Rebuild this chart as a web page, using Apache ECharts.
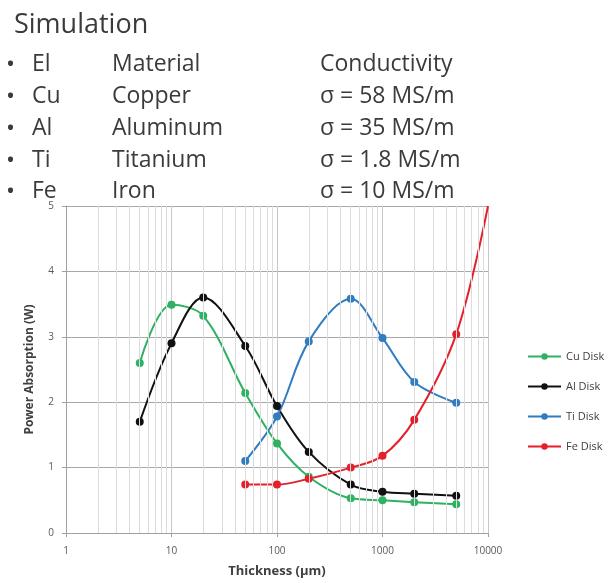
<!DOCTYPE html>
<html>
<head>
<meta charset="utf-8">
<style>
  html, body { margin: 0; padding: 0; background: #fff; }
  #chart { width: 608px; height: 583px; }
</style>
<script src="https://cdn.jsdelivr.net/npm/echarts@6/dist/echarts.min.js"></script>
</head>
<body>
<div id="chart"></div>
<script>
// Thickness values (µm) at which absorption was simulated
const thickness = [5, 10, 20, 50, 100, 200, 500, 1000, 2000, 5000];

// Absorbed power (W) per disk material
const cuDisk = [2.60, 3.49, 3.32, 2.14, 1.37, 0.86, 0.53, 0.50, 0.47, 0.44];
const alDisk = [1.70, 2.90, 3.60, 2.86, 1.94, 1.24, 0.74, 0.63, 0.60, 0.57];
const tiThickness = [50, 100, 200, 500, 1000, 2000, 5000];
const tiDisk = [1.10, 1.78, 2.93, 3.58, 2.98, 2.31, 1.99];
const feThickness = [50, 100, 200, 500, 1000, 2000, 5000, 10000];
const feDisk = [0.74, 0.74, 0.83, 1.00, 1.18, 1.73, 3.04, 5.00];

// Table of simulated materials
const tableHeader = ['El', 'Material', 'Conductivity'];
const elements = ['Cu', 'Al', 'Ti', 'Fe'];
const materials = ['Copper', 'Aluminum', 'Titanium', 'Iron'];
const conductivity = ['σ = 58 MS/m', 'σ = 35 MS/m', 'σ = 1.8 MS/m', 'σ = 10 MS/m'];

// Minor log gridlines (2..9 in each decade)
const minorGrid = [2,3,4,5,6,7,8,9,20,30,40,50,60,70,80,90,200,300,400,500,600,700,800,900,2000,3000,4000,5000,6000,7000,8000,9000];

const FONT = '"Open Sans", "Noto Sans", sans-serif';
const TEXT = '#3b3b3b';

function pairs(xs, ys) { return xs.map((x, i) => [x, ys[i]]); }

const rows = [tableHeader].concat(elements.map((e, i) => [e, materials[i], conductivity[i]]));
const colX = [32, 112, 320];
const rowY = [64, 96, 128, 160, 191];
const graphics = [{
  type: 'text', x: 14, y: 25,
  style: { text: 'Simulation', font: '27px ' + FONT, fill: TEXT, verticalAlign: 'middle' }
}];
rows.forEach((r, ri) => {
  graphics.push({
    type: 'text', x: 6, y: rowY[ri] + 1,
    style: { text: '•', font: '24px ' + FONT, fill: TEXT, verticalAlign: 'middle' }
  });
  r.forEach((cell, ci) => {
    graphics.push({
      type: 'text', x: colX[ci], y: rowY[ri],
      style: { text: cell, font: '23px ' + FONT, fill: TEXT, verticalAlign: 'middle' }
    });
  });
});

function diskSeries(name, data, color) {
  return {
    name, type: 'line', data, smooth: 0.35,
    symbol: 'circle', symbolSize: 8,
    lineStyle: { color, width: 2 },
    itemStyle: { color, borderWidth: 0 },
    z: 3
  };
}

const feData = pairs(feThickness, feDisk).map((p, i, a) =>
  i === a.length - 1 ? { value: p, symbol: 'none' } : p);

const chart = echarts.init(document.getElementById('chart'), null, { renderer: 'canvas' });
chart.setOption({
  animation: false,
  backgroundColor: '#fff',
  textStyle: { fontFamily: FONT },
  graphic: graphics,
  grid: { left: 66, right: 120, top: 206, bottom: 50, containLabel: false },
  legend: {
    orient: 'vertical', left: 522, top: 346,
    itemWidth: 33, itemHeight: 8, itemGap: 19,
    textStyle: { fontSize: 11, color: '#404040', fontFamily: FONT },
    data: ['Cu Disk', 'Al Disk', 'Ti Disk', 'Fe Disk']
  },
  xAxis: {
    type: 'log', logBase: 10, min: 1, max: 10000,
    name: 'Thickness (µm)', nameLocation: 'middle', nameGap: 32,
    nameTextStyle: { fontSize: 13, fontWeight: 'bold', color: '#404040' },
    axisLine: { lineStyle: { color: '#a0a0a0', width: 1 } },
    axisTick: { show: true, length: 4, lineStyle: { color: '#a0a0a0' } },
    axisLabel: { fontSize: 10, color: '#595959', margin: 13, formatter: v => String(v) },
    splitLine: { show: true, lineStyle: { color: '#c8c8c8', width: 1 } }
  },
  yAxis: {
    type: 'value', min: 0, max: 5, interval: 1,
    name: 'Power Absorption (W)', nameLocation: 'middle', nameGap: 30,
    nameTextStyle: { fontSize: 12, fontWeight: 'bold', color: '#404040' },
    axisLine: { show: true, lineStyle: { color: '#a0a0a0', width: 1 } },
    axisTick: { show: true, length: 4, lineStyle: { color: '#a0a0a0' } },
    axisLabel: { fontSize: 10, color: '#595959', margin: 12 },
    splitLine: { show: true, lineStyle: { color: '#a8a8a8', width: 1 } }
  },
  series: [
    {
      name: 'grid-minor', type: 'line', data: [], silent: true, z: 1,
      markLine: {
        silent: true, symbol: 'none', animation: false,
        label: { show: false },
        lineStyle: { color: '#dcdcdc', width: 1, type: 'solid' },
        data: minorGrid.map(v => ({ xAxis: v }))
      }
    },
    diskSeries('Cu Disk', pairs(thickness, cuDisk), '#2fb163'),
    diskSeries('Al Disk', pairs(thickness, alDisk), '#111111'),
    diskSeries('Ti Disk', pairs(tiThickness, tiDisk), '#2f7cc0'),
    diskSeries('Fe Disk', feData, '#e5202a')
  ]
});
</script>
</body>
</html>
